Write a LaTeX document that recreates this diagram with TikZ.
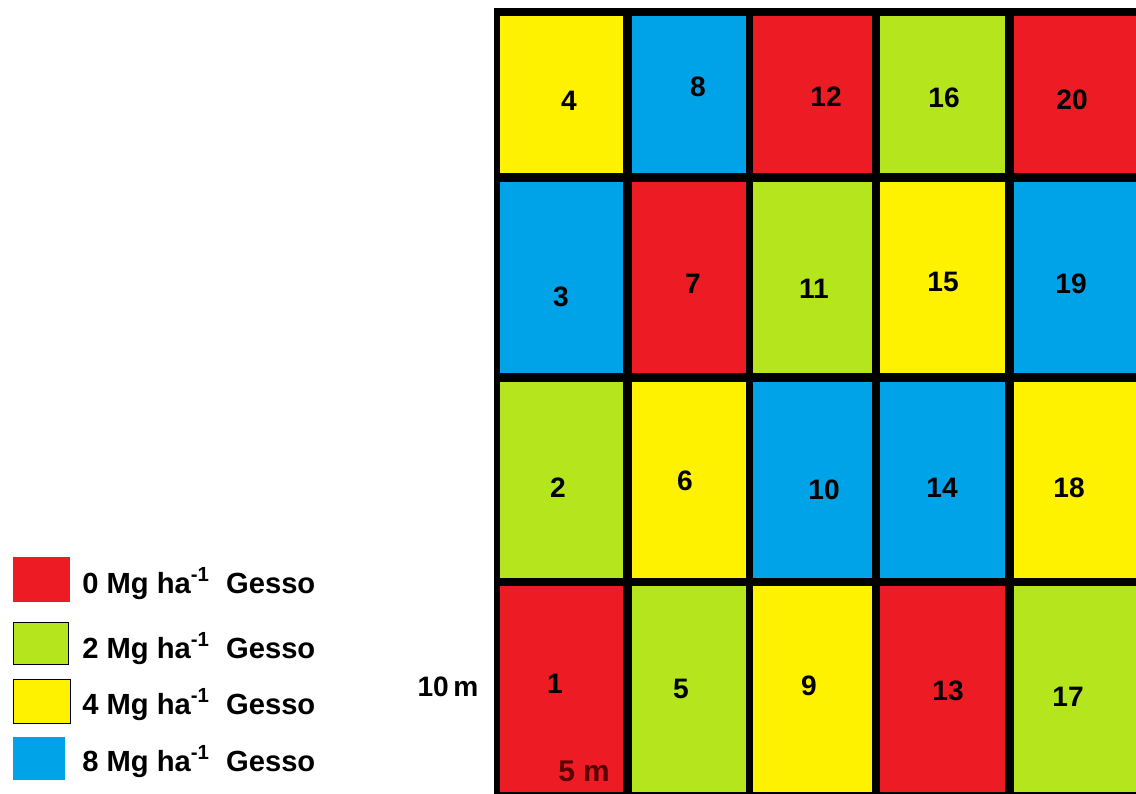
\documentclass[tikz,border=0pt]{standalone}
\usepackage{fontspec}
\setmainfont{Liberation Sans}
\definecolor{plotred}{HTML}{ED1C24}
\definecolor{plotgreen}{HTML}{B5E61D}
\definecolor{plotyellow}{HTML}{FFF200}
\definecolor{plotblue}{HTML}{00A2E8}
\tikzset{
  plotnum/.style={inner sep=0pt,font=\fontsize{16}{19}\selectfont\bfseries},
  legtext/.style={inner sep=0pt,anchor=base west,font=\fontsize{16.6}{20}\selectfont\bfseries}
}
\newcommand{\dose}[1]{#1 Mg ha\textsuperscript{-1}\ \ Gesso}
\begin{document}
\begin{tikzpicture}[x=0.02cm,y=-0.02cm]
  \useasboundingbox (0,0) rectangle (1136,794);
  % field frame
  \fill[black] (494,8) rectangle (1136,794);
  % plots: number/colour/label x/label y
  \foreach \n/\col/\lx/\ly in {1/plotred/555/684, 2/plotgreen/558/488, 3/plotblue/561/297, 4/plotyellow/569/101,
      5/plotgreen/681/689, 6/plotyellow/685/481, 7/plotred/693/284, 8/plotblue/698/87,
      9/plotyellow/809/686, 10/plotblue/824/490, 11/plotgreen/814/289, 12/plotred/826/97,
      13/plotred/948/691, 14/plotblue/942/488, 15/plotyellow/943/282, 16/plotgreen/944/98,
      17/plotgreen/1068/697, 18/plotyellow/1069/488, 19/plotblue/1071/284, 20/plotred/1072/100}{
    \pgfmathtruncatemacro{\c}{(\n-1)/4}
    \pgfmathtruncatemacro{\r}{mod(\n-1,4)}
    \pgfmathsetmacro{\xa}{{500,632,753,880,1014}[\c]}
    \pgfmathsetmacro{\xb}{{623,746,872,1005,1136}[\c]}
    \pgfmathsetmacro{\ya}{{586,382,182,16}[\r]}
    \pgfmathsetmacro{\yb}{{792,578,373,173}[\r]}
    \fill[\col] (\xa,\ya) rectangle (\xb,\yb);
    \node[plotnum] (p\n) at (\lx,\ly) {\n};
  }
  \node[plotnum,text=red!35!black,font=\fontsize{17}{20}\selectfont\bfseries] (width) at (584,771) {5 m};
  \node[plotnum] (length) at (448,687) {10\,m};
  % legend
  \fill[plotred] (13,557) rectangle (70,602);
  \filldraw[fill=plotgreen,draw=black,thin] (13,622) rectangle (68,664);
  \filldraw[fill=plotyellow,draw=black,thin] (13,679) rectangle (70,723);
  \fill[plotblue] (13,737) rectangle (65,780);
  \node[legtext] (leg0) at (82,593) {\dose{0}};
  \node[legtext] (leg2) at (82,658) {\dose{2}};
  \node[legtext] (leg4) at (82,714) {\dose{4}};
  \node[legtext] (leg8) at (82,771) {\dose{8}};
\end{tikzpicture}
\end{document}
